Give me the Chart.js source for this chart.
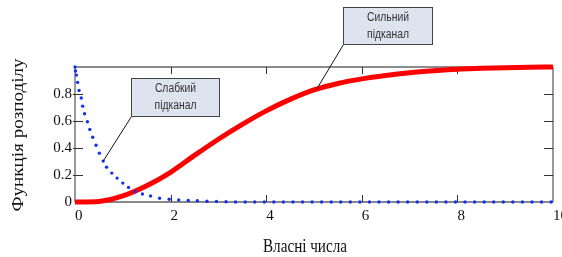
<!DOCTYPE html>
<html><head><meta charset="utf-8">
<script src="https://cdn.jsdelivr.net/npm/chart.js@4/dist/chart.umd.min.js"></script>
<style>html,body{margin:0;padding:0;background:#fff;}canvas{display:block;}</style>
</head><body>
<canvas id="c" width="562" height="257"></canvas>
<script>
// Weak subchannel (blue dotted)
const weakX = [0, 0.01, 0.03, 0.055, 0.085, 0.13, 0.16, 0.2, 0.26, 0.31, 0.37, 0.44, 0.51, 0.59, 0.66, 0.77, 0.88, 1.0, 1.12, 1.26, 1.41, 1.58, 1.77, 1.97, 2.17, 2.37, 2.56, 2.76,
  2.96, 3.16, 3.36, 3.56, 3.76, 3.96, 4.16, 4.36, 4.56, 4.76, 4.96, 5.16, 5.36, 5.56, 5.76, 5.96, 6.16, 6.36, 6.56, 6.76, 6.96, 7.16, 7.36, 7.56, 7.76, 7.96, 8.16, 8.36, 8.56, 8.76, 8.96, 9.16, 9.36, 9.56, 9.76, 9.96];
const weakY = [1.0, 0.97, 0.94, 0.886, 0.826, 0.77, 0.71, 0.654, 0.594, 0.537, 0.48, 0.42, 0.362, 0.303, 0.258, 0.214, 0.177, 0.14, 0.108, 0.077, 0.059, 0.044, 0.028, 0.02, 0.015, 0.012, 0.009, 0.006,
  0.004, 0.002, 0, 0, 0, 0, 0, 0, 0, 0, 0, 0, 0, 0, 0, 0, 0, 0, 0, 0, 0, 0, 0, 0, 0, 0, 0, 0, 0, 0, 0, 0, 0, 0, 0, 0];
// Strong subchannel (red solid)
const strongX = [0, 0.5, 1, 1.5, 2, 2.5, 3, 3.5, 4, 4.5, 5, 5.5, 6, 6.5, 7, 7.5, 8, 8.5, 9, 9.5, 10];
const strongY = [0, 0.004, 0.045, 0.12, 0.22, 0.345, 0.465, 0.575, 0.675, 0.76, 0.83, 0.878, 0.912, 0.937, 0.957, 0.972, 0.984, 0.99, 0.995, 0.998, 1.0];
// Ticks
const xTickValues = [0, 2, 4, 6, 8, 10];
const xTickLabels = ['0', '2', '4', '6', '8', '10'];
const yTickValues = [0, 0.2, 0.4, 0.6, 0.8];
const yTickLabels = ['0', '0.2', '0.4', '0.6', '0.8'];
const xInnerTicks = [2, 4, 6, 8];
const yInnerTicks = [0.2, 0.4, 0.6, 0.8];
// Texts
const xTitle = 'Власні числа';
const yTitle = 'Функція розподілу';
const weakLabel = ['Слабкий', 'підканал'];
const strongLabel = ['Сильний', 'підканал'];
const weakTarget = [0.59, 0.303];
const strongTarget = [5.06, 0.838];

const SERIF = '"Liberation Serif", "Times New Roman", serif';
const SANS = '"Liberation Sans", Arial, sans-serif';

function stretchedText(ctx, text, x, y, font, targetW, rot, color) {
  ctx.save();
  ctx.font = font;
  const w = ctx.measureText(text).width;
  ctx.translate(x, y);
  ctx.rotate(rot);
  ctx.scale(targetW / w, 1);
  ctx.fillStyle = color;
  ctx.textAlign = 'center';
  ctx.textBaseline = 'middle';
  ctx.fillText(text, 0, 0);
  ctx.restore();
}

const framePlugin = {
  id: 'frame',
  beforeDatasetsDraw(chart) {
    const {ctx, chartArea: a, scales: {x, y}} = chart;
    ctx.save();
    // frame
    ctx.strokeStyle = '#666'; ctx.lineWidth = 1.5;
    ctx.beginPath(); ctx.moveTo(a.left, a.top); ctx.lineTo(a.right, a.top); ctx.stroke();
    ctx.strokeStyle = '#333'; ctx.lineWidth = 1;
    ctx.beginPath();
    ctx.moveTo(a.left, a.top); ctx.lineTo(a.left, a.bottom);
    ctx.moveTo(a.right, a.top); ctx.lineTo(a.right, a.bottom);
    ctx.stroke();
    ctx.strokeStyle = '#111';
    ctx.beginPath(); ctx.moveTo(a.left, a.bottom); ctx.lineTo(a.right, a.bottom); ctx.stroke();
    // inner ticks
    ctx.strokeStyle = '#333'; ctx.lineWidth = 1;
    ctx.beginPath();
    xInnerTicks.forEach(v => {
      const px = Math.round(x.getPixelForValue(v)) + 0.5;
      ctx.moveTo(px, a.bottom); ctx.lineTo(px, a.bottom - 7);
      ctx.moveTo(px, a.top); ctx.lineTo(px, a.top + 7);
    });
    yInnerTicks.forEach(v => {
      const py = Math.round(y.getPixelForValue(v)) + 0.5;
      ctx.moveTo(a.left - 2, py); ctx.lineTo(a.left + 8, py);
      ctx.moveTo(a.right, py); ctx.lineTo(a.right - 9, py);
    });
    ctx.stroke();
    ctx.restore();
  },
  afterDraw(chart) {
    const {ctx, scales: {x, y}} = chart;
    // axis titles
    stretchedText(ctx, xTitle, 305, 247, '19px ' + SERIF, 84, 0, '#111');
    stretchedText(ctx, yTitle, 19, 135, '16px ' + SERIF, 153, -Math.PI / 2, '#111');
    // callout boxes
    const drawBox = (lines, x1, x2, yTop, yBot, target) => {
      const l = Math.round(x.getPixelForValue(x1)) + 0.5, r = Math.round(x.getPixelForValue(x2)) + 0.5;
      const t = Math.round(y.getPixelForValue(yTop)) + 0.5, b = Math.round(y.getPixelForValue(yBot)) + 0.5;
      ctx.save();
      ctx.strokeStyle = '#111'; ctx.lineWidth = 1;
      ctx.beginPath(); ctx.moveTo(l, b); ctx.lineTo(x.getPixelForValue(target[0]), y.getPixelForValue(target[1])); ctx.stroke();
      ctx.fillStyle = '#dde4ef';
      ctx.fillRect(l, t, r - l, b - t);
      ctx.strokeStyle = '#444';
      ctx.strokeRect(l, t, r - l, b - t);
      ctx.restore();
      const cx = (l + r) / 2;
      lines.forEach((s, i) => {
        ctx.save();
        ctx.font = '12px ' + SANS;
        const w = ctx.measureText(s).width;
        ctx.restore();
        stretchedText(ctx, s, cx, t + 10 + i * 17, '12px ' + SANS, w * 0.86, 0, '#333');
      });
    };
    drawBox(weakLabel, 1.18, 3.02, 0.918, 0.636, weakTarget);
    drawBox(strongLabel, 5.61, 7.46, 1.445, 1.167, strongTarget);
  }
};

new Chart(document.getElementById('c'), {
  type: 'scatter',
  data: {
    datasets: [
      {
        label: 'weak',
        data: weakX.map((v, i) => ({x: v, y: weakY[i]})),
        showLine: false,
        pointRadius: 1.7,
        pointBorderWidth: 0,
        pointBackgroundColor: '#1232f0',
        pointBorderColor: '#1232f0',
        clip: false,
        order: 0
      },
      {
        label: 'strong',
        data: strongX.map((v, i) => ({x: v, y: strongY[i]})),
        showLine: true,
        borderColor: '#ff0000',
        borderWidth: 5,
        pointRadius: 0,
        cubicInterpolationMode: 'monotone',
        clip: false,
        order: 1
      }
    ]
  },
  options: {
    responsive: false,
    animation: false,
    devicePixelRatio: 1,
    layout: {padding: {left: 0, right: 9, top: 67, bottom: 0}},
    plugins: {legend: {display: false}, tooltip: {enabled: false}},
    scales: {
      x: {
        type: 'linear', min: 0, max: 10,
        afterBuildTicks: s => { s.ticks = xTickValues.map(v => ({value: v})); },
        ticks: {
          callback: (v, i) => xTickLabels[i],
          align: 'start', padding: 5, maxRotation: 0, autoSkip: false,
          font: {family: SERIF, size: 15}, color: '#111'
        },
        grid: {display: false, drawTicks: false},
        border: {display: false},
        afterFit: s => { s.height = 55; s.paddingLeft = 0; s.paddingRight = 0; }
      },
      y: {
        type: 'linear', min: 0, max: 1,
        afterBuildTicks: s => { s.ticks = yTickValues.map(v => ({value: v})); },
        ticks: {
          callback: (v, i) => yTickLabels[i],
          padding: 3,
          font: {family: SERIF, size: 15}, color: '#111'
        },
        grid: {display: false, drawTicks: false},
        border: {display: false},
        afterFit: s => { s.width = 75; s.paddingTop = 0; s.paddingBottom = 0; }
      }
    }
  },
  plugins: [framePlugin]
});
</script>
</body></html>
